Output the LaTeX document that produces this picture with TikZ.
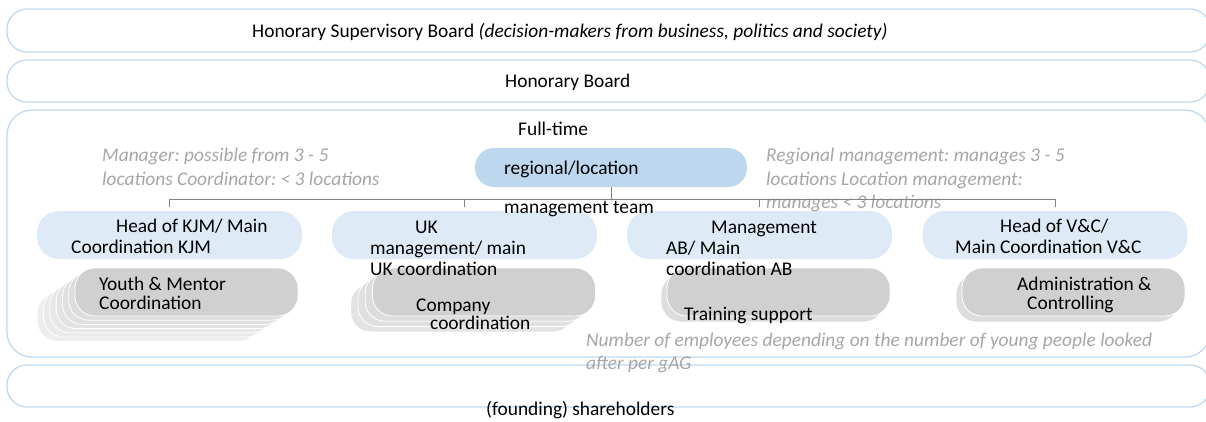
\documentclass[tikz,border=0pt]{standalone}
\usepackage{fontspec}
\setmainfont{Carlito}
\usepackage{tikz}
\frenchspacing

\definecolor{bandblue}{RGB}{189,215,238}
\definecolor{headblue}{RGB}{222,235,247}
\definecolor{leadblue}{RGB}{189,215,238}
\definecolor{staffgray}{RGB}{208,208,208}
\definecolor{notegray}{RGB}{166,166,166}
\definecolor{linegray}{RGB}{128,128,128}

\newcommand{\ind}{\hspace*{45pt}}

\begin{document}
\begin{tikzpicture}[x=1pt, y=-1pt,
    every node/.style={inner sep=0pt, font=\fontsize{19.4}{21}\selectfont},
    band/.style={draw=bandblue, line width=1.2pt, rounded corners=20pt},
    headpill/.style={fill=headblue, rounded corners=22pt, minimum width=265pt, minimum height=48pt},
    leadpill/.style={fill=leadblue, rounded corners=19pt, minimum width=272pt, minimum height=39pt},
    staffpill/.style={draw=white, line width=0.8pt, rounded corners=20pt, minimum width=223pt, minimum height=48pt},
    txt/.style={anchor=base west, align=left},
    note/.style={txt, text=notegray, font=\fontsize{19.4}{23.5}\selectfont\itshape},
    conn/.style={draw=linegray, line width=1pt}]
    \useasboundingbox (0,0) rectangle (1206,421);

    % Bands
    \draw[band] (7,9) rectangle (1210,52);
    \draw[band] (7,60) rectangle (1210,102);
    \draw[band, rounded corners=25pt] (7,110) rectangle (1210,357);
    \draw[band] (7,365) rectangle (1210,407);

    % Pills: management team and the heads of the four areas
    \node[leadpill] (lead) at (611,167.5) {};
    \node[headpill] (kjm) at (169.5,235) {};
    \node[headpill] (uk) at (464.5,235) {};
    \node[headpill] (ab) at (759.5,235) {};
    \node[headpill] (vc) at (1055,235) {};

    % Staff stacks (copies behind, then front pill)
    \foreach \x/\n/\dx/\dy [count=\s] in {186.5/6/-6.3/4.2, 484/3/-7.3/5.3, 778.5/1/-6/6, 1073.5/1/-6/6} {
        \foreach \i in {\n,...,1} {
            \pgfmathtruncatemacro\shade{80-7*\i}
            \node[staffpill, fill=staffgray!\shade!white] (staff\s-\i) at ({\x+\i*\dx},{292+\i*\dy}) {};
        }
        \node[staffpill, fill=staffgray] (staff\s) at (\x,292) {};
    }

    % Band texts
    \node[txt] (supboard) at (252,37.5) {Honorary Supervisory Board \textit{(decision-makers from business, politics and society)}};
    \node[txt] (honboard) at (505,87.5) {Honorary Board};
    \node[txt] (fulltime) at (518,135) {Full-time};
    \node[txt] (founders) at (486,415.5) {(founding) shareholders};

    % Pill texts (nodes sit on the last baseline)
    \node[txt] (leadtext) at (504,174) {regional/location};
    \node[txt] (leadteam) at (504,213) {management team};
    \node[txt] (kjmtext) at (71,253) {\ind Head of KJM/ Main\\Coordination KJM};
    \node[txt] (uktext) at (370,275) {\ind UK\\management/ main\\UK coordination};
    \node[txt] (abtext) at (666,275) {\ind Management\\AB/ Main\\coordination AB};
    \node[txt] (vctext) at (955,253) {\ind Head of V\&C/\\Main Coordination V\&C};
    \node[txt, font=\fontsize{19.4}{19}\selectfont] (youth) at (99,309) {Youth \& Mentor\\Coordination};
    \node[txt, font=\fontsize{19.4}{18}\selectfont] (company) at (416,329.5) {Company\\\hspace*{14pt}coordination};
    \node[txt] (training) at (684,320) {Training support};
    \node[txt, font=\fontsize{19.4}{19}\selectfont] (admin) at (1017,309) {Administration \&\\\hspace*{10pt}Controlling};

    % Notes
    \node[note] (mgrnote) at (102,185) {Manager: possible from 3 - 5\\locations Coordinator: < 3 locations};
    \node[note] (regnote) at (766,208.5) {Regional management: manages 3 - 5\\locations Location management:\\manages < 3 locations};
    \node[note] (empnote) at (586,369.5) {Number of employees depending on the number of young people looked\\after per gAG};

    % Connectors
    \coordinate (bus) at (611,199);
    \draw[conn] (lead.south) -- (bus);
    \draw[conn] (bus -| kjm.north) -- (bus -| vc.north);
    \foreach \h in {kjm,uk,ab,vc}
        \draw[conn] (bus -| \h.north) -- ([yshift=4pt]\h.north);
\end{tikzpicture}
\end{document}
